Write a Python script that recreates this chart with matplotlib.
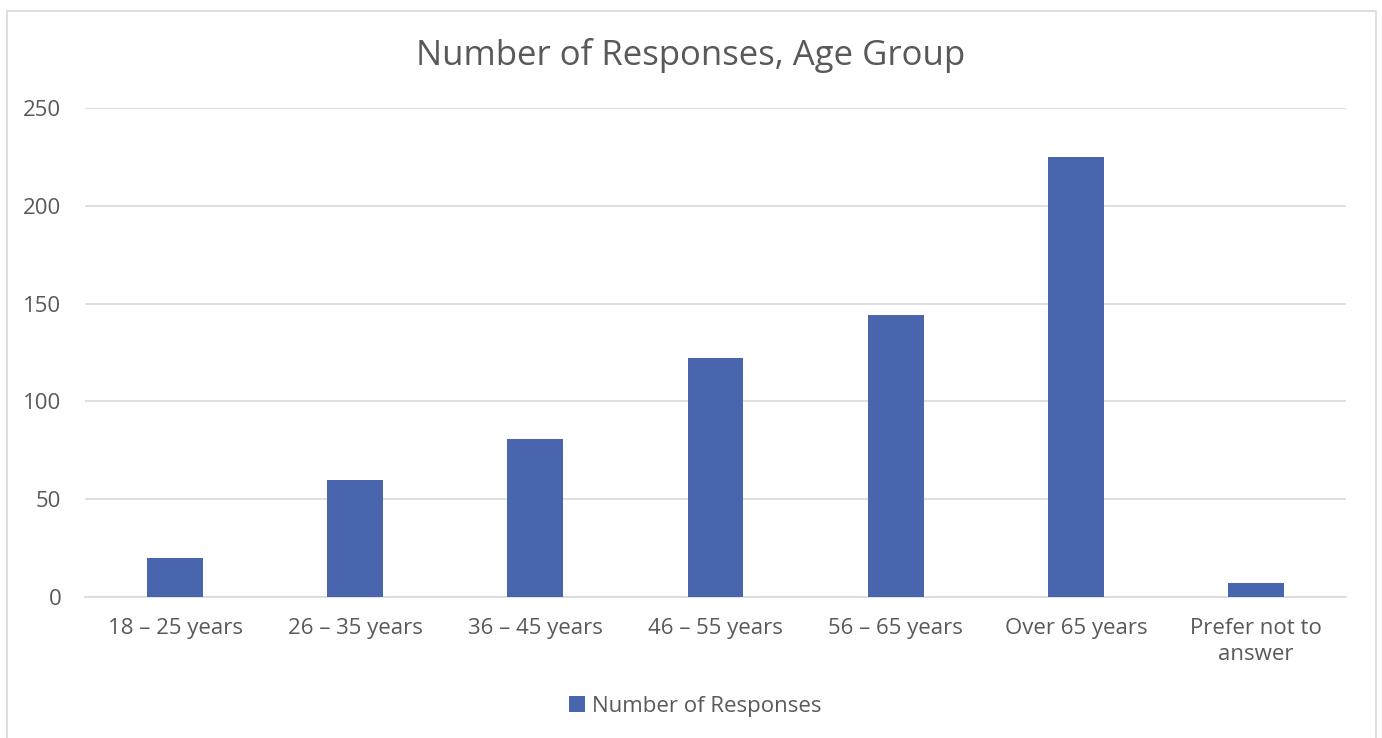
import matplotlib
matplotlib.use("Agg")
import matplotlib.pyplot as plt
from matplotlib.patches import Rectangle

categories = ["18 – 25 years", "26 – 35 years", "36 – 45 years", "46 – 55 years",
              "56 – 65 years", "Over 65 years", "Prefer not to\nanswer"]
responses = [20, 60, 81, 122, 144, 225, 7]
yticks = [0, 50, 100, 150, 200, 250]

plt.rcParams['font.family'] = ['Open Sans', 'DejaVu Sans']
text_color = "#595959"
grid_color = "#d9d9d9"
bar_color = "#4865ad"

fig = plt.figure(figsize=(13.82, 7.38), dpi=100)
fig.patches.append(Rectangle((0.005, -0.05), 0.991, 1.035, transform=fig.transFigure,
                             fill=False, edgecolor=grid_color, linewidth=1.2))
ax = fig.add_axes([0.0615, 0.191, 0.9125, 0.6627])
x = list(range(len(categories)))
ax.bar(x, responses, width=0.31, color=bar_color, label="Number of Responses", zorder=3)
ax.set_xlim(-0.5, len(categories) - 0.5)
ax.set_ylim(0, 250)
ax.set_yticks(yticks)
ax.set_xticks(x)
ax.set_xticklabels(categories, linespacing=1.35)
ax.grid(axis='y', color=grid_color, linewidth=1.2, zorder=0)
for s in ['top', 'right', 'left']:
    ax.spines[s].set_visible(False)
ax.spines['bottom'].set_color(grid_color)
ax.spines['bottom'].set_linewidth(1.2)
ax.tick_params(axis='both', length=0, labelsize=16, colors=text_color)
ax.tick_params(axis='x', pad=15)
ax.tick_params(axis='y', pad=17)
fig.text(0.5, 0.925, "Number of Responses, Age Group", ha='center', va='center',
         fontsize=25, color=text_color)
leg = fig.legend(loc='center', bbox_to_anchor=(0.503, 0.043), frameon=False, fontsize=16,
                 handlelength=0.7, handleheight=0.7, handletextpad=0.3)
for t in leg.get_texts():
    t.set_color(text_color)
fig.savefig("out.png", dpi=100)
